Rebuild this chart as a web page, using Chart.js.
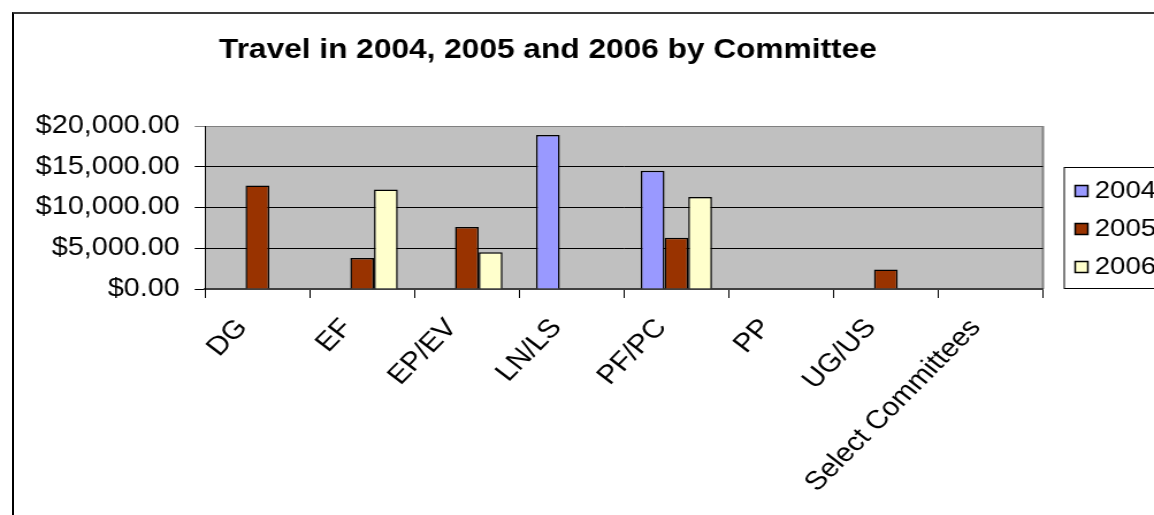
<!DOCTYPE html>
<html>
<head>
<meta charset="utf-8">
<script src="https://cdn.jsdelivr.net/npm/chart.js@4.4.1/dist/chart.umd.min.js"></script>
<style>
  body { margin: 0; background: #fff; overflow: hidden; }
  #frame { position: absolute; left: 12px; top: 12px; width: 1300px; height: 600px;
           border-top: 2px solid #3a3a3a; border-left: 2px solid #000; }
  #travelChart { position: absolute; left: 0; top: 0; }
</style>
</head>
<body>
<div id="frame"></div>
<!-- drawn at 1003px wide and stretched to 1154px, the source chart is widened the same way -->
<canvas id="travelChart" width="1003" height="515" style="width:1154px;height:515px"></canvas>
<script>
const committees = ['DG', 'EF', 'EP/EV', 'LN/LS', 'PF/PC', 'PP', 'UG/US', 'Select Committees'];
const years = ['2004', '2005', '2006'];
const travel2004 = [null, null, null, 18900, 14500, null, null, null];
const travel2005 = [12700, 3800, 7600, null, 6300, null, 2400, null];
const travel2006 = [null, 12200, 4500, null, 11300, null, null, null];
const yTicks = [0, 5000, 10000, 15000, 20000];
const chartTitle = 'Travel in 2004, 2005 and 2006 by Committee';

const barColors = ['#9999FF', '#993300', '#FFFFCC'];
const fontFamily = "Arial, 'Liberation Sans', sans-serif";

// grey plot area with a grey right edge, like the Excel chart
const plotBg = {
  id: 'plotBg',
  beforeDraw(chart) {
    const { ctx, chartArea: a } = chart;
    ctx.save();
    ctx.fillStyle = '#C0C0C0';
    ctx.fillRect(a.left, a.top, a.right - a.left, a.bottom - a.top);
    ctx.strokeStyle = '#808080';
    ctx.lineWidth = 2;
    ctx.beginPath();
    ctx.moveTo(a.right, a.top);
    ctx.lineTo(a.right, a.bottom);
    ctx.stroke();
    ctx.restore();
  }
};

// title is not centred on the canvas in the source, so it is placed from the plot area
const offsetTitle = {
  id: 'offsetTitle',
  afterDraw(chart) {
    const { ctx, chartArea: a } = chart;
    ctx.save();
    ctx.fillStyle = '#000';
    ctx.font = 'bold 27.5px ' + fontFamily;
    ctx.textAlign = 'center';
    ctx.textBaseline = 'alphabetic';
    ctx.fillText(chartTitle, a.left + 298, a.top - 68);
    ctx.restore();
  }
};

// boxed legend to the right of the plot
const boxLegend = {
  id: 'boxLegend',
  afterDraw(chart) {
    const { ctx, chartArea: a } = chart;
    const left = a.right + 18, top = a.top + 41;
    ctx.save();
    ctx.fillStyle = '#fff';
    ctx.fillRect(left, top, 200, 121);
    ctx.strokeStyle = '#000';
    ctx.lineWidth = 1;
    ctx.strokeRect(left + 0.5, top + 0.5, 200, 121);
    ctx.font = '24px ' + fontFamily;
    ctx.textBaseline = 'middle';
    chart.data.datasets.forEach((ds, i) => {
      const cy = top + 24 + i * 38;
      ctx.fillStyle = ds.backgroundColor;
      ctx.fillRect(left + 10, cy - 5.5, 11, 11);
      ctx.lineWidth = 1.5;
      ctx.strokeRect(left + 10, cy - 5.5, 11, 11);
      ctx.fillStyle = '#000';
      ctx.fillText(ds.label, left + 27, cy);
    });
    ctx.restore();
  }
};

const series = [travel2004, travel2005, travel2006];

let travelChart = new Chart(document.getElementById('travelChart').getContext('2d'), {
  type: 'bar',
  data: {
    labels: committees,
    datasets: years.map((y, i) => ({
      label: y,
      data: series[i],
      backgroundColor: barColors[i],
      borderColor: '#000',
      borderWidth: 1.5,
      categoryPercentage: 0.68,
      barPercentage: 1
    }))
  },
  options: {
    responsive: false,
    animation: false,
    layout: { padding: { left: 31, right: 96.5, top: 126, bottom: 0 } },
    plugins: {
      legend: { display: false },
      tooltip: { enabled: false },
      title: { display: false }
    },
    scales: {
      x: {
        ticks: {
          color: '#000',
          font: { family: fontFamily, size: 26 },
          minRotation: 49,
          maxRotation: 49,
          autoSkip: false,
          padding: 15,
          labelOffset: -13
        },
        grid: { drawOnChartArea: false, offset: true, color: '#000', tickLength: 9 },
        border: { color: '#404040', width: 2 },
        afterFit: s => { s.height = 226; }
      },
      y: {
        min: 0,
        max: 20000,
        afterBuildTicks: s => { s.ticks = yTicks.map(v => ({ value: v })); },
        ticks: {
          color: '#000',
          padding: 13,
          font: { family: fontFamily, size: 25 },
          callback: v => '$' + v.toLocaleString('en-US', { minimumFractionDigits: 2, maximumFractionDigits: 2 })
        },
        grid: {
          color: c => (c.tick && c.tick.value === 20000 ? '#808080' : '#000'),
          tickLength: 9
        },
        border: { color: '#000', width: 1 },
        afterFit: s => { s.width = 147.2; }
      }
    }
  },
  plugins: [plotBg, offsetTitle, boxLegend]
});
</script>
</body>
</html>
